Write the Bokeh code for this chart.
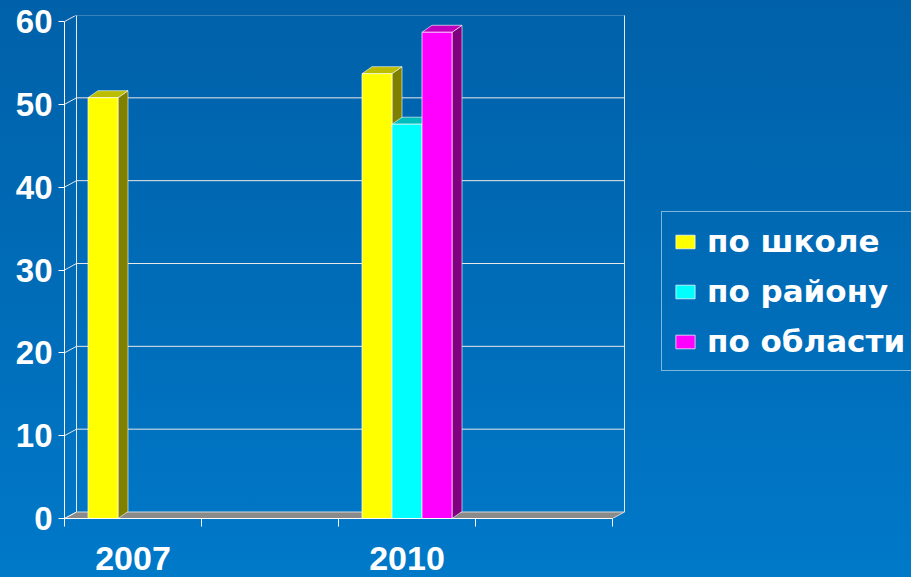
from bokeh.plotting import figure
from bokeh.models import Range1d, FixedTicker, Legend, LegendItem
from bokeh.embed import file_html
from bokeh.resources import INLINE

# ---- data ----
years = ["2007", "", "2010", ""]
series_names = ["по школе", "по району", "по области"]
school = [50.8, 0, 53.7, 0]
district = [0, 0, 47.6, 0]
region = [0, 0, 58.7, 0]
y_ticks = [0, 10, 20, 30, 40, 50, 60]

# ---- styles ----
FRONT = ["#FFFF00", "#00FFFF", "#FF00FF"]
SIDE = ["#808000", "#008080", "#800080"]
TOP = ["#BDBD00", "#00BDBD", "#BD00BD"]
FONT = "Liberation Sans"

W, H = 911, 577
LEFT, RIGHT, TOPPX, BOTTOM = 64, 911, 15, 518
slot_px = 137.0
y_px = (518 - 21) / 60.0

n = len(years)
x_end = (RIGHT - LEFT) / slot_px
y_end = (BOTTOM - TOPPX) / y_px

bw = 30 / slot_px          # bar width (data units)
bdx, bdy = 10 / slot_px, 7 / y_px    # bar depth
wdx, wdy = 12 / slot_px, 6.5 / y_px  # wall depth

p = figure(width=W, height=H, x_range=Range1d(0, x_end), y_range=Range1d(0, y_end),
           output_backend="svg", toolbar_location=None,
           min_border_left=LEFT, min_border_right=0, min_border_top=TOPPX,
           min_border_bottom=H - BOTTOM,
           background_fill_alpha=0, border_fill_alpha=0, outline_line_color=None)
p.styles = {"background": "linear-gradient(to bottom, #0061A9 0%, #006DB9 55%, #0079C9 100%)"}
p.xgrid.visible = False
p.ygrid.visible = False

# floor
p.patch([0, n, n + wdx, wdx], [0, 0, wdy, wdy], fill_color="#8A8A8A",
        line_color="#D8D8D8", line_width=1)

# back wall gridlines & edges
ymax = y_ticks[-1]
gl = [t for t in y_ticks if t > 0]
p.segment(x0=[wdx] * len(gl), y0=[t + wdy for t in gl], x1=[n + wdx] * len(gl),
          y1=[t + wdy for t in gl], line_color="#E8E8E8", line_width=1)
p.segment(x0=[wdx, n + wdx], y0=[wdy, wdy], x1=[wdx, n + wdx], y1=[ymax + wdy, ymax + wdy],
          line_color="#E8E8E8", line_width=1)
# side wall diagonals
p.segment(x0=[0] * len(y_ticks), y0=y_ticks, x1=[wdx] * len(y_ticks),
          y1=[t + wdy for t in y_ticks], line_color="#E8E8E8", line_width=1)

# bars
centers = [i + 0.5 for i in range(n)]
items = []
for k, vals in enumerate([school, district, region]):
    lefts = [centers[i] + (k - 1.5) * bw for i in range(n) if vals[i] > 0]
    vs = [v for v in vals if v > 0]
    rights = [l + bw for l in lefts]
    p.patches(xs=[[r, r + bdx, r + bdx, r] for r in rights],
              ys=[[0, bdy, v + bdy, v] for v in vs],
              fill_color=SIDE[k], line_color="white", line_alpha=0.6, line_width=1)
    p.patches(xs=[[l, l + bdx, r + bdx, r] for l, r in zip(lefts, rights)],
              ys=[[v, v + bdy, v + bdy, v] for v in vs],
              fill_color=TOP[k], line_color="white", line_alpha=0.6, line_width=1)
    fr = p.quad(left=lefts, right=rights, bottom=0, top=vs, fill_color=FRONT[k],
                line_color="white", line_alpha=0.7, line_width=1)
    items.append(LegendItem(label=series_names[k], renderers=[fr]))

# axes
ya = p.yaxis[0]
ya.ticker = FixedTicker(ticks=y_ticks)
ya.bounds = (0, ymax)
ya.axis_line_color = "white"
ya.major_tick_line_color = "white"
ya.major_tick_out = 6
ya.major_tick_in = 0
ya.minor_tick_line_color = None
ya.major_label_standoff = 6
ya.major_label_text_color = "white"
ya.major_label_text_font = FONT
ya.major_label_text_font_style = "bold"
ya.major_label_text_font_size = "33px"

xa = p.xaxis[0]
label_ticks = [c for c, y in zip(centers, years) if y]
xa.ticker = FixedTicker(ticks=label_ticks, minor_ticks=list(range(n + 1)))
xa.major_label_overrides = {c: y for c, y in zip(centers, years) if y}
xa.bounds = (0, n)
xa.axis_line_color = "white"
xa.major_tick_out = 0
xa.major_tick_in = 0
xa.minor_tick_line_color = "white"
xa.minor_tick_out = 8
xa.minor_tick_in = 0
xa.major_label_standoff = 20
xa.major_label_text_color = "white"
xa.major_label_text_font = FONT
xa.major_label_text_font_style = "bold"
xa.major_label_text_font_size = "34px"

legend = Legend(items=items, location=(597, 147))
legend.background_fill_alpha = 0
legend.border_line_color = "white"
legend.border_line_width = 1
legend.label_text_color = "white"
legend.label_text_font = "DejaVu Sans"
legend.label_text_font_style = "bold"
legend.label_text_font_size = "31px"
legend.glyph_width = 24
legend.glyph_height = 17
legend.label_standoff = 10
legend.padding = 11
legend.spacing = 14
legend.margin = 0
p.add_layout(legend)

open("out.html", "w").write(file_html(p, INLINE))
